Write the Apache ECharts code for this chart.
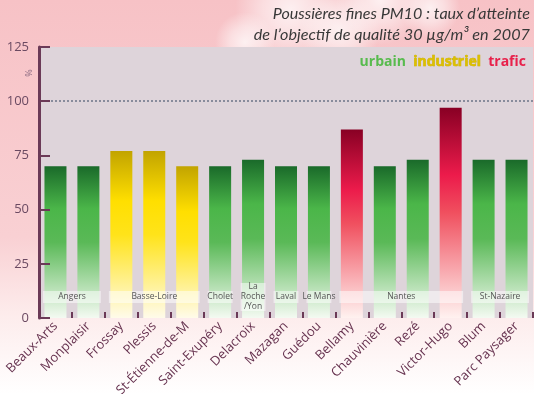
<!DOCTYPE html>
<html>
<head>
<meta charset="utf-8">
<script src="https://cdn.jsdelivr.net/npm/echarts@6/dist/echarts.min.js"></script>
<style>
  html, body { margin: 0; padding: 0; background: #fff; }
  #chart { width: 534px; height: 394px; }
</style>
</head>
<body>
<div id="chart"></div>
<script>
// Stations measuring PM10, with their share of the 30 µg/m³ quality objective (%)
const stations = ['Beaux-Arts', 'Monplaisir', 'Frossay', 'Plessis', 'St-Étienne-de-M', 'Saint-Exupéry',
  'Delacroix', 'Mazagan', 'Guédou', 'Bellamy', 'Chauvinière', 'Rezé', 'Victor-Hugo', 'Blum', 'Parc Paysager'];
const values = [70, 70, 77, 77, 70, 70, 73, 70, 70, 87, 70, 73, 97, 73, 73];
const stationTypes = ['urbain', 'urbain', 'industriel', 'industriel', 'industriel', 'urbain',
  'urbain', 'urbain', 'urbain', 'trafic', 'urbain', 'urbain', 'trafic', 'urbain', 'urbain'];
// Cities grouping consecutive stations: [label, first index, last index]
const cities = [
  ['Angers', 0, 1], ['Basse-Loire', 2, 4], ['Cholet', 5, 5], ['La\nRoche\n/Yon', 6, 6],
  ['Laval', 7, 7], ['Le Mans', 8, 8], ['Nantes', 9, 12], ['St-Nazaire', 13, 14]
];
const yTicks = [0, 25, 50, 75, 100, 125];
const objective = 100;

const typeGradients = {
  urbain: [[0, '#1a6a2a'], [0.28, '#4bb649'], [0.5, '#5ab957'], [1, '#f4faf2']],
  industriel: [[0, '#c2a400'], [0.3, '#ffdf00'], [0.5, '#ffe31a'], [1, '#fffbea']],
  trafic: [[0, '#880024'], [0.32, '#ec1b4b'], [0.5, '#f0505f'], [1, '#fff2f0']]
};
const legendColors = { urbain: '#58bb4e', industriel: '#dcc000', trafic: '#e8214b' };

function grad(stops) {
  return new echarts.graphic.LinearGradient(0, 0, 0, 1,
    stops.map(s => ({ offset: s[0], color: s[1] })));
}

const chart = echarts.init(document.getElementById('chart'), null, { renderer: 'canvas' });

const option = {
  backgroundColor: grad([[0, '#f7c2c6'], [0.6, '#f9d0d3'], [0.8, '#fdecec'], [1, '#ffffff']]),
  animation: false,
  grid: {
    left: 39, right: 1, top: 47, bottom: 76,
    outerBoundsMode: 'none', containLabel: false,
    show: true, backgroundColor: '#ded4da', borderWidth: 0
  },
  xAxis: {
    type: 'category',
    data: stations,
    axisLine: { show: false },
    axisTick: { show: true, inside: true, length: 6, lineStyle: { color: '#6b3a57', width: 2 } },
    axisLabel: {
      rotate: 45, interval: 0, margin: 6,
      color: '#66324f', fontSize: 13, fontFamily: 'Open Sans'
    },
    z: 5
  },
  yAxis: {
    type: 'value',
    min: yTicks[0], max: yTicks[yTicks.length - 1], interval: 25,
    splitLine: { show: false },
    axisLine: { show: true, lineStyle: { color: '#6b3a57', width: 3 } },
    axisTick: { show: true, inside: true, length: 11, lineStyle: { color: '#6b3a57', width: 2 } },
    axisLabel: { color: '#6b4a62', fontSize: 13, fontFamily: 'Open Sans', margin: 10 },
    z: 5
  },
  series: [{
    type: 'bar',
    barWidth: 22,
    data: values.map((v, i) => ({
      value: v,
      itemStyle: { color: grad(typeGradients[stationTypes[i]]) }
    })),
    markLine: {
      silent: true, symbol: 'none', label: { show: false },
      lineStyle: { color: '#6c7488', type: [2, 2], width: 1.6 },
      data: [{ yAxis: objective }]
    }
  }]
};
chart.setOption(option);

// Overlays placed through the chart's own coordinate system
function px(catIdx, val) { return chart.convertToPixel({ gridIndex: 0 }, [catIdx, val]); }
const band = px(1, 0)[0] - px(0, 0)[0];
const zeroY = px(0, 0)[1];
const graphics = [];

// soft clouds behind the title
[[290, 10, 55], [340, 30, 40], [380, 0, 45], [245, 42, 30], [430, 8, 30]].forEach(c => {
  graphics.push({
    type: 'circle', z: -10, silent: true,
    shape: { cx: c[0], cy: c[1], r: c[2] },
    style: {
      fill: new echarts.graphic.RadialGradient(0.5, 0.5, 0.5, [
        { offset: 0, color: 'rgba(255,255,255,0.75)' },
        { offset: 0.5, color: 'rgba(255,255,255,0.45)' },
        { offset: 1, color: 'rgba(255,255,255,0)' }
      ])
    }
  });
});

// city group labels across the foot of the bars
cities.forEach(c => {
  const x0 = px(c[1], 0)[0] - band / 2 + 4;
  const x1 = px(c[2], 0)[0] + band / 2 - 4;
  const multi = c[0].indexOf('\n') >= 0;
  const h = multi ? 28 : 12;
  const yc = zeroY - 21;
  graphics.push({
    type: 'rect', z: 10, silent: true,
    shape: { x: x0, y: yc - h / 2, width: x1 - x0, height: h },
    style: { fill: 'rgba(255,255,255,0.5)' }
  });
  graphics.push({
    type: 'text', z: 11, silent: true,
    x: (x0 + x1) / 2, y: yc,
    style: {
      text: c[0], fill: '#555', font: '8.5px "Open Sans"',
      align: 'center', verticalAlign: 'middle', lineHeight: 10
    }
  });
});

// unit label beside the axis
graphics.push({
  type: 'text', z: 11, silent: true,
  x: 29, y: px(0, 113)[1], rotation: Math.PI / 2,
  style: { text: '%', fill: '#8a6a80', font: '9px "Open Sans"', align: 'center', verticalAlign: 'middle' }
});

// title, two right-aligned lines
const titleLines = ['Poussières fines PM10 : taux d’atteinte', 'de l’objectif de qualité 30 µg/m³ en 2007'];
const titleSizes = [16.1, 16.2];
titleLines.forEach((t, k) => {
  graphics.push({
    type: 'text', z: 11, silent: true,
    right: 4, top: 6 + k * 21,
    style: { text: t, fill: '#383838', font: 'italic ' + titleSizes[k] + 'px Lato', align: 'right' }
  });
});

// legend of station types
graphics.push({
  type: 'text', z: 11, silent: true,
  right: 8, top: 55,
  style: {
    text: '{u|urbain}  {i|industriel}  {t|trafic}',
    font: 'bold 14px "Open Sans"', align: 'right',
    rich: {
      u: { fill: legendColors.urbain, font: 'bold 14px "Open Sans"' },
      i: { fill: legendColors.industriel, font: 'bold 14px "Open Sans"', stroke: '#c8a800', lineWidth: 0.6 },
      t: { fill: legendColors.trafic, font: 'bold 14px "Open Sans"' }
    }
  }
});

chart.setOption({ graphic: graphics });
</script>
</body>
</html>
